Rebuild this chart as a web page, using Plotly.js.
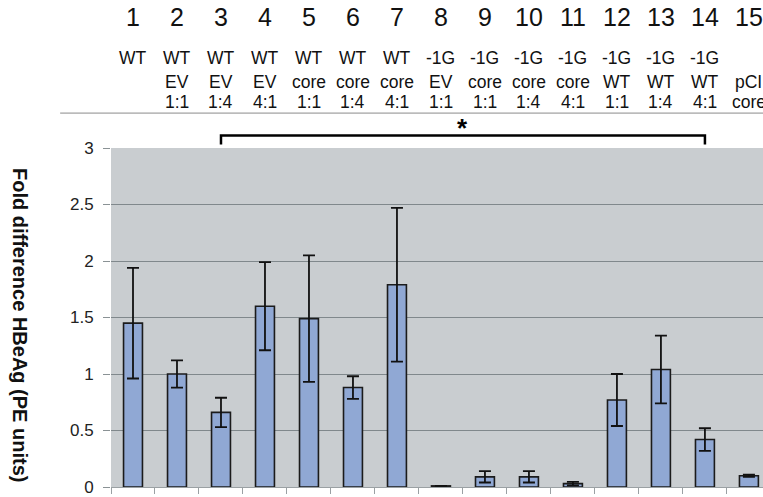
<!DOCTYPE html>
<html>
<head>
<meta charset="utf-8">
<script src="https://cdn.plot.ly/plotly-3.0.1.min.js"></script>
<style>html,body{margin:0;padding:0;background:#fff;}#chart{width:763px;height:497px;}</style>
</head>
<body>
<div id="chart"></div>
<script>
const categories = ["1","2","3","4","5","6","7","8","9","10","11","12","13","14","15"];
const values = [1.45, 1.00, 0.66, 1.60, 1.49, 0.88, 1.79, 0.01, 0.09, 0.09, 0.03, 0.77, 1.04, 0.42, 0.10];
const errors = [0.49, 0.12, 0.13, 0.39, 0.56, 0.10, 0.68, 0.00, 0.05, 0.05, 0.015, 0.23, 0.30, 0.10, 0.01];
const labels1 = ["WT","WT","WT","WT","WT","WT","WT","-1G","-1G","-1G","-1G","-1G","-1G","-1G",""];
const labels2 = ["","EV","EV","EV","core","core","core","EV","core","core","core","WT","WT","WT","pCI"];
const labels3 = ["","1:1","1:4","4:1","1:1","1:4","4:1","1:1","1:1","1:4","4:1","1:1","1:4","4:1","core"];
const yTicks = [0, 0.5, 1, 1.5, 2, 2.5, 3];
const yTickText = ["0","0.5","1","1.5","2","2.5","3"];
const bracketFrom = 2, bracketTo = 13;

const font = "Arial, 'Liberation Sans', sans-serif";
const ann = [];
function lab(i, y, text, size) {
  ann.push({x: i, y: y, xref: 'x', yref: 'paper', yanchor: 'middle', text: text, showarrow: false,
    font: {family: font, size: size, color: '#111'}});
}
categories.forEach((c, i) => {
  lab(i, 1.386, c, 25);
  if (labels1[i]) lab(i, 1.265, labels1[i], 17.5);
  if (labels2[i]) lab(i, 1.195, labels2[i], 17.5);
  if (labels3[i]) lab(i, 1.136, labels3[i], 17.5);
});
ann.push({x: (bracketFrom + bracketTo) / 2, y: 1.058, xref: 'x', yref: 'paper', yanchor: 'middle', text: '<b>*</b>',
  showarrow: false, font: {family: font, size: 26, color: '#000'}});
ann.push({x: -0.1396, y: 0.478, xref: 'paper', yref: 'paper', xanchor: 'center', yanchor: 'middle',
  text: '<b>Fold difference HBeAg (PE units)</b>',
  textangle: 90, showarrow: false, font: {family: font, size: 20, color: '#111'}});

const trace = {
  type: 'bar', x: categories, y: values,
  width: 0.43,
  marker: {color: 'rgb(144,168,212)', line: {color: '#1b1b1b', width: 1.6}},
  error_y: {type: 'data', array: errors, visible: true, color: '#111', thickness: 1.8, width: 6}
};

const layout = {
  width: 763, height: 497,
  margin: {l: 111, r: 0, t: 148, b: 10},
  paper_bgcolor: '#fff', plot_bgcolor: 'rgb(201,205,208)',
  showlegend: false,
  xaxis: {type: 'category', range: [-0.5, 14.32], showticklabels: false, tickson: 'boundaries',
    ticks: 'outside', ticklen: 6, tickcolor: '#9aa0a3', showgrid: false, showline: true,
    linecolor: '#9aa0a3', linewidth: 1, zeroline: false, fixedrange: true},
  yaxis: {range: [0, 3], tickvals: yTicks, ticktext: yTickText, ticks: 'outside', ticklen: 7,
    tickcolor: '#8a9295', gridcolor: 'rgb(128,136,140)', gridwidth: 1, showline: false, zeroline: false,
    tickfont: {family: font, size: 17, color: '#222'}, ticklabelstandoff: 6},
  annotations: ann,
  shapes: [
    {type: 'line', xref: 'paper', yref: 'paper', x0: -0.078, x1: 1, y0: 1.103, y1: 1.103,
      line: {color: '#8a8a8a', width: 1}},
    {type: 'path', xref: 'x', yref: 'paper',
      path: `M ${bracketFrom} 1.010 L ${bracketFrom} 1.037 L ${bracketTo} 1.037 L ${bracketTo} 1.010`,
      line: {color: '#000', width: 2.5}}
  ]
};
Plotly.newPlot('chart', [trace], layout, {displayModeBar: false, staticPlot: true});
</script>
</body>
</html>
